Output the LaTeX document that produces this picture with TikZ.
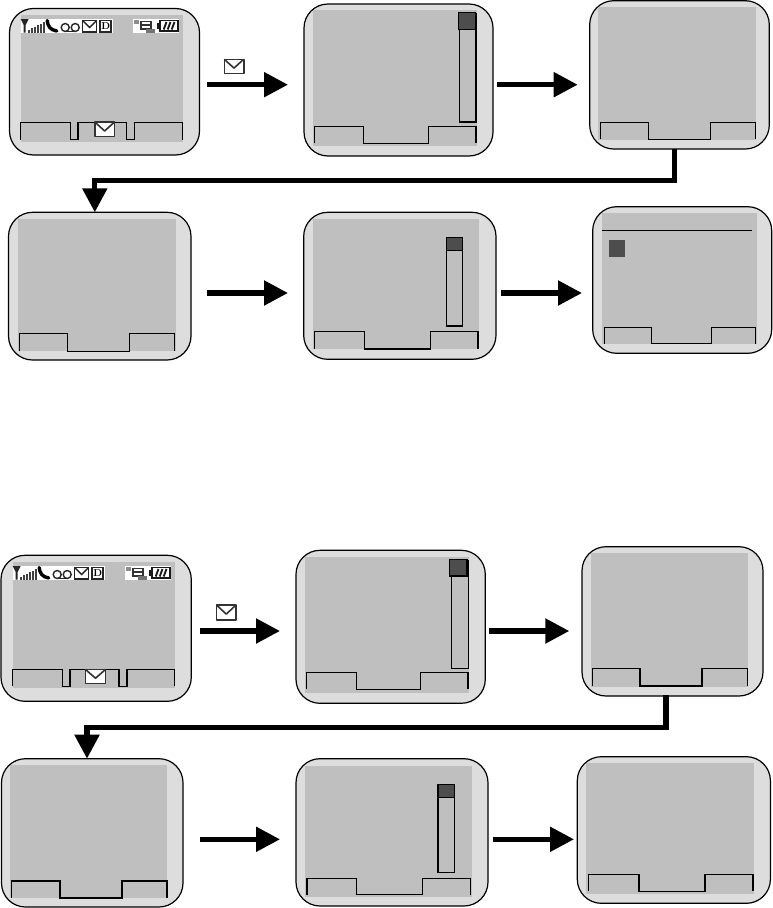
\documentclass[tikz,border=0pt]{standalone}
\usetikzlibrary{arrows.meta}
\definecolor{caseg}{HTML}{DDDDDD}
\definecolor{screeng}{HTML}{BFBFBF}
\definecolor{thumbg}{HTML}{4D4D4D}
\tikzset{
  x=1pt,y=-1pt,
  phonebox/.style={draw=black,fill=caseg,line width=1.2pt,rounded corners=24pt,inner sep=0pt,outer sep=0pt},
  screenbox/.style={fill=screeng,inner sep=0pt,outer sep=0pt},
  softline/.style={draw=black,line width=1.2pt,line join=miter},
  flow/.style={draw=black,line width=5.2pt,-{Triangle[length=24pt,width=24pt]}},
  flowrun/.style={draw=black,line width=5.2pt,line join=miter},
  scrolltrack/.style={draw=black,line width=1.3pt,fill=screeng},
  scrollthumb/.style={draw=black,line width=1.1pt,fill=thumbg},
  envbox/.style={draw=black!80,line width=1.6pt,fill=white,line join=round},
  iconbg/.style={fill=white},
  icondark/.style={draw=black!85,line width=1.4pt},
}
% name, outer x1 y1 x2 y2, screen x1 y1 x2 y2
\newcommand\phonebody[9]{%
  \pgfmathsetmacro\pw{#4-#2}\pgfmathsetmacro\ph{#5-#3}%
  \pgfmathsetmacro\pcx{(#4+#2)/2}\pgfmathsetmacro\pcy{(#5+#3)/2}%
  \node[phonebox,minimum width=\pw pt,minimum height=\ph pt] (#1) at (\pcx,\pcy) {};
  \pgfmathsetmacro\pw{#8-#6}\pgfmathsetmacro\ph{#9-#7}%
  \pgfmathsetmacro\pcx{(#8+#6)/2}\pgfmathsetmacro\pcy{(#9+#7)/2}%
  \node[screenbox,minimum width=\pw pt,minimum height=\ph pt] (#1s) at (\pcx,\pcy) {};
}
% top bottom x1 x2 x3 x4
\newcommand\softkeys[6]{%
  \draw[softline] (#3,#2)--(#3,#1)--(#4,#1)--(#4,#2)--(#5,#2)--(#5,#1)--(#6,#1)--(#6,#2);
}
\newcommand\envelope[4]{%
  \draw[envbox] (#1,#2) rectangle (#3,#4);
  \draw[envbox,fill=none] (#1,#2) -- ({(#1+#3)/2},{#2+(#4-#2)*0.62}) -- (#3,#2);
}
% status row: origin = left top of the row
\newcommand\statusrow[2]{%
  \begin{scope}[shift={(#1,#2)}]
    \fill[iconbg] (0,0) rectangle (92,14);
    \fill[iconbg] (112.5,0) rectangle (158,14);
    % antenna
    \fill[black!85] (0,0) -- (8,0) -- (5,6) -- (5,13.5) -- (3,13.5) -- (3,6) -- cycle;
    % signal bars
    \foreach \bx/\bh in {7/3,10/4.5,13/6,16/7.5,19/9,22/10.5}{\fill[black!75] (\bx,13.5) rectangle ++(2.1,-\bh);}
    % handset
    \draw[black,line width=3.4pt,line cap=round] (26.5,1.5) .. controls (27,7) and (29.5,11) .. (36,12);
    % voicemail
    \draw[icondark] (44.5,8.5) circle (4);
    \draw[icondark] (54.5,8.5) circle (4);
    \draw[icondark] (44.5,12.5) -- (54.5,12.5);
    % envelope
    \draw[icondark,fill=white] (62,1.5) rectangle (76,13);
    \draw[icondark] (62,1.5) -- (69,8.5) -- (76,1.5);
    % D box
    \fill[black!85] (78.5,0.8) rectangle (91.5,13.8);
    \node[fill=white,inner sep=0pt,minimum width=7pt,minimum height=10pt,text=black,font=\bfseries\fontsize{10}{10}\selectfont] (#1d) at (85,7.3) {D};
    % right icon
    \fill[black!45] (113,1) rectangle (118,5);
    \draw[black!80,line width=1.7pt] (120,2.5) rectangle (130,10);
    \draw[black!80,line width=1.4pt] (120,6) -- (130,6);
    \fill[black!55] (125,10) rectangle (134,14);
    % battery
    \draw[black!90,line width=1.6pt] (139,1.5) rectangle (157.5,12);
    \fill[black!90] (136.5,4) rectangle (139,9.5);
    \foreach \bx in {143,147,151}{\draw[black!90,line width=1.9pt] (\bx,10.5) -- (\bx+2.8,3);}
  \end{scope}
}
\begin{document}
\begin{tikzpicture}
\useasboundingbox (0,0) rectangle (772,908);
% --- top block ---
\phonebody{a}{9.5}{8.5}{199.5}{155}{20.7}{15}{183}{142}
\draw[softline] (20.7,139.5)--(20.7,122.5)--(70.7,122.5)--(70.7,139.5)--(78,139.5)--(78,122.5)--(126.7,122.5)--(126.7,139.5)--(134.7,139.5)--(134.7,122.5)--(182.3,122.5)--(182.3,139.5);
\statusrow{20.7}{19}
\envelope{94.8}{122}{114.5}{136.5}
\phonebody{b}{304}{4}{493}{156}{313}{10}{476.7}{146}
\softkeys{126.3}{143.3}{314.7}{363.3}{428.3}{476}
\draw[scrolltrack] (459.3,14) rectangle (476,122);
\draw[scrollthumb] (458.3,12.7) rectangle (475.3,29.3);
\phonebody{c}{589.7}{0.7}{769.3}{149}{598}{6.7}{755.7}{140}
\softkeys{122.3}{139.3}{600.7}{648.7}{710.7}{755.3}
\phonebody{d}{8.5}{212.3}{191}{360}{18}{219}{176}{351}
\softkeys{333.3}{351.3}{19.6}{67.7}{129.5}{174.6}
\phonebody{e}{303.7}{212.3}{496}{359.3}{313}{219}{478.7}{349.3}
\softkeys{331.7}{349}{314.3}{364.3}{430.6}{478}
\draw[scrolltrack] (446.4,237.7) rectangle (462.2,326);
\draw[scrollthumb] (446.4,237.7) rectangle (462.2,250.3);
\phonebody{f}{592.7}{206.7}{771.7}{353.3}{602.3}{213}{756.7}{344}
\softkeys{327.3}{343.7}{604.3}{651.3}{711.3}{755.7}
\draw[black,line width=1.2pt] (602.3,230.7) -- (752,230.7);
\fill[thumbg] (609,240) rectangle (625,257);
% top connectors
\envelope{224.3}{59.3}{243.7}{73.5}
\coordinate (ab1) at (207,84.7); \coordinate (ab2) at (288,84.7);
\draw[flow] (ab1) -- (ab2);
\coordinate (bc1) at (497,84.7); \coordinate (bc2) at (577.7,84.7);
\draw[flow] (bc1) -- (bc2);
\coordinate (cd1) at (674.5,148.5); \coordinate (cd2) at (674.5,180.5); \coordinate (cd3) at (94.8,180.5); \coordinate (cd4) at (94.8,212.3);
\draw[flow] (cd1) -- (cd2) -- (cd3) -- (cd4);
\coordinate (de1) at (207,293); \coordinate (de2) at (288,293);
\draw[flow] (de1) -- (de2);
\coordinate (ef1) at (501,293); \coordinate (ef2) at (582,293);
\draw[flow] (ef1) -- (ef2);
% --- bottom block ---
\phonebody{g}{1}{555.3}{191.3}{701.3}{12.7}{561.7}{175}{688.3}
\draw[softline] (12.3,686.3)--(12.3,669.3)--(62.7,669.3)--(62.7,686.3)--(70,686.3)--(70,669.3)--(119,669.3)--(119,686.3)--(127,686.3)--(127,669.3)--(174.7,669.3)--(174.7,686.3);
\statusrow{12.7}{566}
\envelope{85.5}{669.5}{105.5}{683.5}
\phonebody{h}{296}{550.3}{485.3}{703.3}{305}{557}{468.7}{693}
\softkeys{672.7}{689.3}{306.3}{356.3}{420.3}{468}
\draw[scrolltrack] (451.3,561) rectangle (468.3,668.7);
\draw[scrollthumb] (449.7,559.3) rectangle (467,576);
\phonebody{i}{582}{546.7}{763}{696}{590.7}{553}{748}{686.7}
\softkeys{668.7}{686}{592.3}{640}{702}{747.3}
\phonebody{j}{1.5}{758.7}{183}{907}{10}{765}{167}{897.7}
\softkeys{881}{898}{11.8}{60}{122}{167}
\phonebody{k}{296}{758.7}{488}{906}{305.4}{765.7}{472}{896.7}
\softkeys{878.3}{894.7}{307}{356.7}{422.7}{470.4}
\draw[scrolltrack] (438,784.3) rectangle (454.7,872.3);
\draw[scrollthumb] (438,784.3) rectangle (454.7,797.7);
\phonebody{l}{577.3}{756.7}{770.4}{903.3}{586}{763}{753.7}{894}
\softkeys{874.3}{891.3}{588.7}{639}{705}{753}
% bottom connectors
\envelope{216.5}{605}{236}{619.7}
\coordinate (gh1) at (200,631); \coordinate (gh2) at (280,631);
\draw[flow] (gh1) -- (gh2);
\coordinate (hi1) at (489,631); \coordinate (hi2) at (569.3,631);
\draw[flow] (hi1) -- (hi2);
\coordinate (ij1) at (666,695); \coordinate (ij2) at (666,727.5); \coordinate (ij3) at (87,727.5); \coordinate (ij4) at (87,758.7);
\draw[flow] (ij1) -- (ij2) -- (ij3) -- (ij4);
\coordinate (jk1) at (200,839.3); \coordinate (jk2) at (280,839.3);
\draw[flow] (jk1) -- (jk2);
\coordinate (kl1) at (493,839.3); \coordinate (kl2) at (574,839.3);
\draw[flow] (kl1) -- (kl2);
\end{tikzpicture}
\end{document}
